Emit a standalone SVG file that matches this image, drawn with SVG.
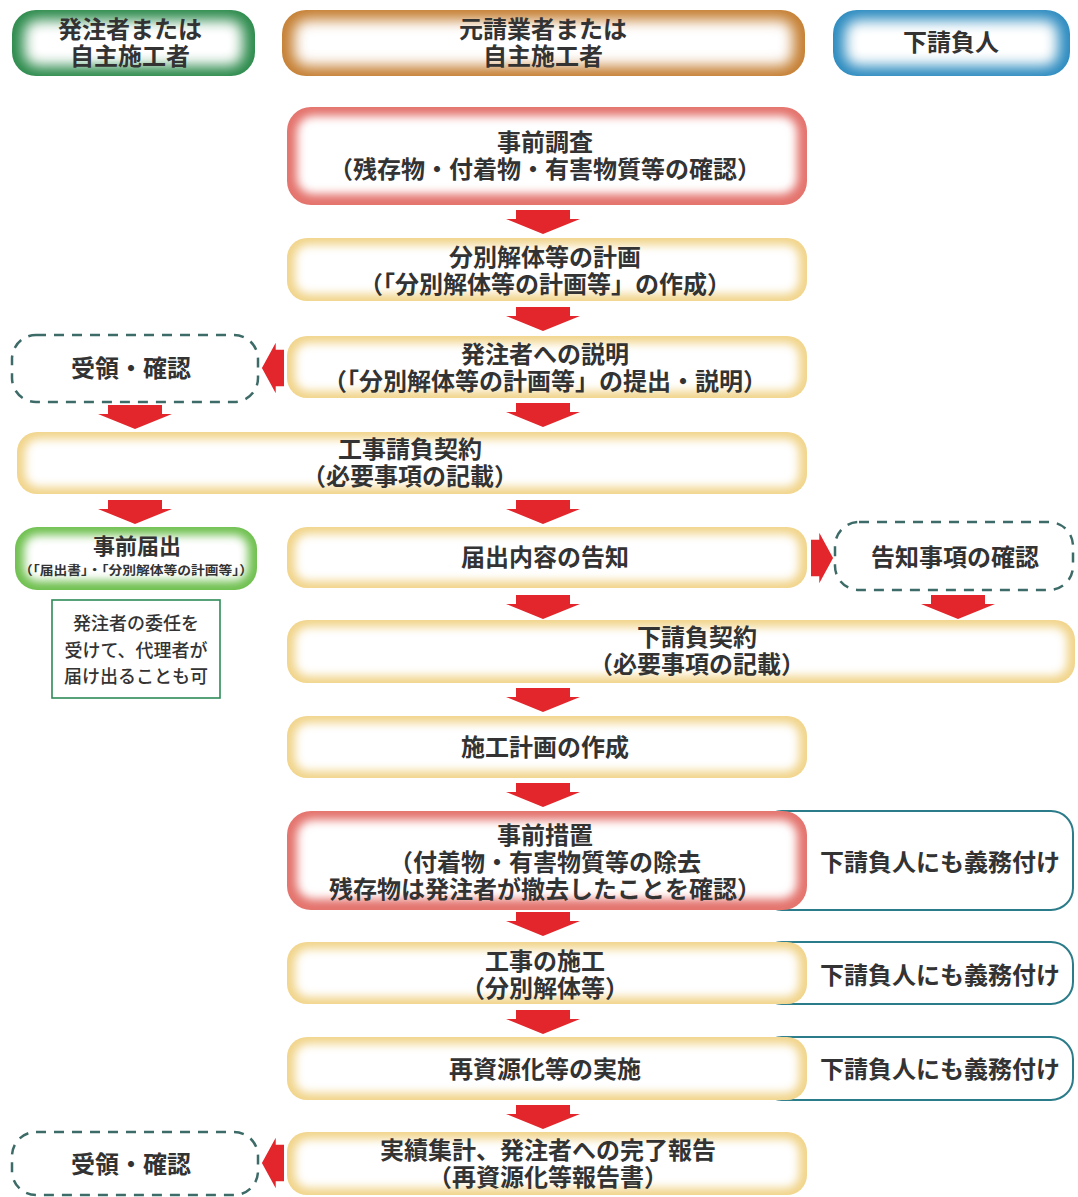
<svg xmlns="http://www.w3.org/2000/svg" width="1078" height="1197" viewBox="0 0 1078 1197">
<style>
text{font-family:"Liberation Sans","Noto Sans CJK JP",sans-serif;font-weight:700;fill:#333;text-anchor:middle;}
.t24{font-size:24px;}
.t18{font-size:18px;font-weight:500;}
.t22{font-size:22px;}
.t12{font-size:12.5px;}
.yel{fill:#f1d48a;}
.red{fill:#e4736d;}
.gdk{fill:#2b8a4b;}
.org{fill:#c57f33;}
.blu{fill:#2c8bbf;}
.glt{fill:#6fc04f;}
.inner{fill:#fff;filter:url(#soft);}
.innerH{fill:#fff;filter:url(#softH);}
.dash{fill:#fff;stroke:#3d6b68;stroke-width:2.5;stroke-dasharray:10 8;}
.side{fill:#fff;stroke:#2b7c8a;stroke-width:2;}
.note{fill:#fff;stroke:#2e8b57;stroke-width:1.6;}
.arr{fill:#e3262b;}
</style>
<defs>
<filter id="soft" x="-10%" y="-30%" width="120%" height="160%"><feGaussianBlur stdDeviation="5"/></filter>
<filter id="softH" x="-10%" y="-30%" width="120%" height="160%"><feGaussianBlur stdDeviation="7"/></filter>
<path id="down" d="M-27,0 H27 V9 H37 L0,24 L-37,9 H-27 Z"/>
</defs>
<rect width="1078" height="1197" fill="#fff"/>

<g id="hdr-owner">
<rect class="gdk" x="12" y="10" width="243" height="66" rx="24"/>
<rect class="innerH" x="24" y="20" width="219" height="46" rx="14"/>
<text class="t24" x="130" y="38">発注者または<tspan x="130" dy="27">自主施工者</tspan></text>
</g>
<g id="hdr-prime">
<rect class="org" x="282" y="10" width="523" height="66" rx="24"/>
<rect class="innerH" x="294" y="20" width="499" height="46" rx="14"/>
<text class="t24" x="543" y="38">元請業者または<tspan x="543" dy="27">自主施工者</tspan></text>
</g>
<g id="hdr-sub">
<rect class="blu" x="833" y="10" width="237" height="66" rx="24"/>
<rect class="innerH" x="845" y="20" width="213" height="46" rx="14"/>
<text class="t24" x="951" y="51">下請負人</text>
</g>

<g id="survey">
<rect class="red" x="287" y="107" width="520" height="98" rx="24"/>
<rect class="inner" x="297" y="116" width="500" height="78" rx="16"/>
<text class="t24" x="545" y="151">事前調査<tspan x="545" dy="27">（残存物・付着物・有害物質等の確認）</tspan></text>
</g>
<g id="plan">
<rect class="yel" x="287" y="238" width="520" height="63" rx="20"/>
<rect class="inner" x="295" y="245" width="504" height="49" rx="14"/>
<text class="t24" x="545" y="266">分別解体等の計画<tspan x="545" dy="27">（「分別解体等の計画等」の作成）</tspan></text>
</g>
<g id="explain">
<rect class="yel" x="287" y="336" width="520" height="62" rx="20"/>
<rect class="inner" x="295" y="343" width="504" height="48" rx="14"/>
<text class="t24" x="545" y="363">発注者への説明<tspan x="545" dy="27">（「分別解体等の計画等」の提出・説明）</tspan></text>
</g>
<g id="receive1">
<rect class="dash" x="12" y="335" width="246" height="67" rx="24"/>
<text class="t24" x="131" y="377">受領・確認</text>
</g>
<g id="contract">
<rect class="yel" x="17" y="432" width="790" height="62" rx="20"/>
<rect class="inner" x="25" y="439" width="774" height="48" rx="14"/>
<text class="t24" x="410" y="458">工事請負契約<tspan x="410" dy="27">（必要事項の記載）</tspan></text>
</g>
<g id="filing">
<rect class="glt" x="15" y="527" width="242" height="63" rx="22"/>
<rect class="inner" x="24" y="535" width="224" height="46" rx="14"/>
<text class="t22" x="137" y="554">事前届出<tspan class="t12" x="136" dy="21" textLength="234" lengthAdjust="spacingAndGlyphs">（「届出書」・「分別解体等の計画等」）</tspan></text>
</g>
<g id="delegate-note">
<rect class="note" x="52" y="600" width="168" height="98"/>
<text class="t18" x="136" y="630">発注者の委任を<tspan x="136" dy="26.5">受けて、代理者が</tspan><tspan x="136" dy="26.5">届け出ることも可</tspan></text>
</g>
<g id="notice">
<rect class="yel" x="287" y="527" width="520" height="61" rx="20"/>
<rect class="inner" x="295" y="534" width="504" height="47" rx="14"/>
<text class="t24" x="545" y="566">届出内容の告知</text>
</g>
<g id="confirm">
<rect class="dash" x="835" y="522" width="238" height="68" rx="24"/>
<text class="t24" x="955" y="566">告知事項の確認</text>
</g>
<g id="subcontract">
<rect class="yel" x="287" y="620" width="788" height="63" rx="20"/>
<rect class="inner" x="295" y="627" width="772" height="49" rx="14"/>
<text class="t24" x="697" y="646">下請負契約<tspan x="697" dy="27">（必要事項の記載）</tspan></text>
</g>
<g id="construction-plan">
<rect class="yel" x="287" y="716" width="520" height="62" rx="20"/>
<rect class="inner" x="295" y="723" width="504" height="48" rx="14"/>
<text class="t24" x="545" y="756">施工計画の作成</text>
</g>
<g id="pre-measure">
<rect class="side" x="760" y="811" width="313" height="99" rx="22"/>
<text class="t24" x="940" y="871">下請負人にも義務付け</text>
<rect class="red" x="287" y="811" width="520" height="99" rx="24"/>
<rect class="inner" x="297" y="820" width="500" height="79" rx="16"/>
<text class="t24" x="545" y="844">事前措置<tspan x="545" dy="27">（付着物・有害物質等の除去</tspan><tspan x="545" dy="27">残存物は発注者が撤去したことを確認）</tspan></text>
</g>
<g id="execution">
<rect class="side" x="760" y="942" width="313" height="62" rx="22"/>
<text class="t24" x="940" y="984">下請負人にも義務付け</text>
<rect class="yel" x="287" y="942" width="520" height="62" rx="20"/>
<rect class="inner" x="295" y="949" width="504" height="48" rx="14"/>
<text class="t24" x="545" y="970">工事の施工<tspan x="545" dy="27">（分別解体等）</tspan></text>
</g>
<g id="recycling">
<rect class="side" x="760" y="1037" width="313" height="63" rx="22"/>
<text class="t24" x="940" y="1078">下請負人にも義務付け</text>
<rect class="yel" x="287" y="1037" width="520" height="63" rx="20"/>
<rect class="inner" x="295" y="1044" width="504" height="49" rx="14"/>
<text class="t24" x="545" y="1078">再資源化等の実施</text>
</g>
<g id="report">
<rect class="yel" x="287" y="1132" width="520" height="63" rx="20"/>
<rect class="inner" x="295" y="1139" width="504" height="49" rx="14"/>
<text class="t24" x="548" y="1159">実績集計、発注者への完了報告<tspan x="548" dy="27">（再資源化等報告書）</tspan></text>
</g>
<g id="receive2">
<rect class="dash" x="12" y="1132" width="246" height="63" rx="24"/>
<text class="t24" x="131" y="1173">受領・確認</text>
</g>

<g id="connectors" class="arr">
<use href="#down" x="543" y="210"/>
<use href="#down" x="543" y="307"/>
<use href="#down" x="543" y="403"/>
<use href="#down" x="135" y="405"/>
<use href="#down" x="135" y="500"/>
<use href="#down" x="543" y="500"/>
<use href="#down" x="958" y="595"/>
<use href="#down" x="543" y="595"/>
<use href="#down" x="543" y="688"/>
<use href="#down" x="543" y="783"/>
<use href="#down" x="543" y="912"/>
<use href="#down" x="543" y="1010"/>
<use href="#down" x="543" y="1105"/>
<use href="#down" transform="translate(284,368) rotate(90) scale(0.68,0.92)"/>
<use href="#down" transform="translate(284,1163) rotate(90) scale(0.68,0.92)"/>
<use href="#down" transform="translate(811,558) rotate(-90) scale(0.68,0.92)"/>
</g>
</svg>
